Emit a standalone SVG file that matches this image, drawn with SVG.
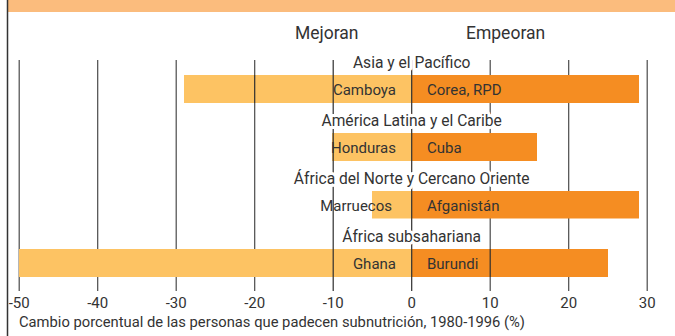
<svg xmlns="http://www.w3.org/2000/svg" width="675" height="336" viewBox="0 0 675 336">
<style>
text{font-family:Roboto,"Liberation Sans",sans-serif;fill:#333;font-size:15px}
.h{font-size:17.5px}
.r{font-size:15.6px}
.c{text-anchor:middle}
.e{text-anchor:end}
.halo{paint-order:stroke;stroke:#fff;stroke-width:6px;stroke-linejoin:round}
.lo{fill:#FDC363}
.hi{fill:#F58D22}
.g line{stroke:#4a4a4a;stroke-width:1.2}
.k line{stroke:#2e2e2e;stroke-width:1.2}
</style>
<rect width="675" height="336" fill="#fff"/>
<rect x="8" y="0" width="667" height="12" fill="#FBBC7D"/>
<line x1="7.5" y1="0" x2="7.5" y2="336" stroke="#333" stroke-width="1.5"/>
<text class="h" x="295" y="39">Mejoran</text>
<text class="h" x="466" y="39">Empeoran</text>
<g class="g" id="grid">
<line x1="19.2" y1="60" x2="19.2" y2="291"/>
<line x1="97.7" y1="60" x2="97.7" y2="291"/>
<line x1="176.2" y1="60" x2="176.2" y2="291"/>
<line x1="254.7" y1="60" x2="254.7" y2="291"/>
<line x1="490.2" y1="60" x2="490.2" y2="291"/>
<line x1="568.7" y1="60" x2="568.7" y2="291"/>
<line x1="647.2" y1="60" x2="647.2" y2="291"/>
</g>
<g id="bars">
<rect class="lo" x="184" y="75" width="227.7" height="28"/>
<rect class="hi" x="411.7" y="75" width="227.3" height="28"/>
<rect class="lo" x="332" y="133" width="79.7" height="28"/>
<rect class="hi" x="411.7" y="133" width="125.3" height="28"/>
<rect class="lo" x="372" y="191" width="39.7" height="27.5"/>
<rect class="hi" x="411.7" y="191" width="227.3" height="27.5"/>
<rect class="lo" x="19" y="249" width="392.7" height="28"/>
<rect class="hi" x="411.7" y="249" width="196.3" height="28"/>
</g>
<g class="k" id="grid-top">
<line x1="333.2" y1="60" x2="333.2" y2="291"/>
<line x1="411.7" y1="60" x2="411.7" y2="291"/>
<line x1="254.7" y1="75" x2="254.7" y2="103"/>
<line x1="490.2" y1="249" x2="490.2" y2="277"/>
</g>
<g id="regions">
<text class="c r halo" x="411.7" y="68">Asia y el Pacífico</text>
<text class="c r halo" x="411.7" y="126">América Latina y el Caribe</text>
<text class="c r halo" x="411.7" y="183.5">África del Norte y Cercano Oriente</text>
<text class="c r halo" x="411.7" y="241.5">África subsahariana</text>
</g>
<g id="countries">
<text class="e" x="396" y="95">Camboya</text>
<text x="427" y="95">Corea, RPD</text>
<text class="e" x="396" y="153">Honduras</text>
<text x="427" y="153">Cuba</text>
<text class="e" x="392" y="211">Marruecos</text>
<text x="427" y="211">Afganistán</text>
<text class="e" x="396" y="269">Ghana</text>
<text x="427" y="269">Burundi</text>
</g>
<g id="axis">
<text class="c" x="19.2" y="307.5">-50</text>
<text class="c" x="97.7" y="307.5">-40</text>
<text class="c" x="176.2" y="307.5">-30</text>
<text class="c" x="254.7" y="307.5">-20</text>
<text class="c" x="333.2" y="307.5">-10</text>
<text class="c" x="411.7" y="307.5">0</text>
<text class="c" x="490.2" y="307.5">10</text>
<text class="c" x="568.7" y="307.5">20</text>
<text class="c" x="647.2" y="307.5">30</text>
<text x="19" y="327" font-size="14.8" textLength="506" lengthAdjust="spacingAndGlyphs">Cambio porcentual de las personas que padecen subnutrición, 1980-1996 (%)</text>
</g>
</svg>
